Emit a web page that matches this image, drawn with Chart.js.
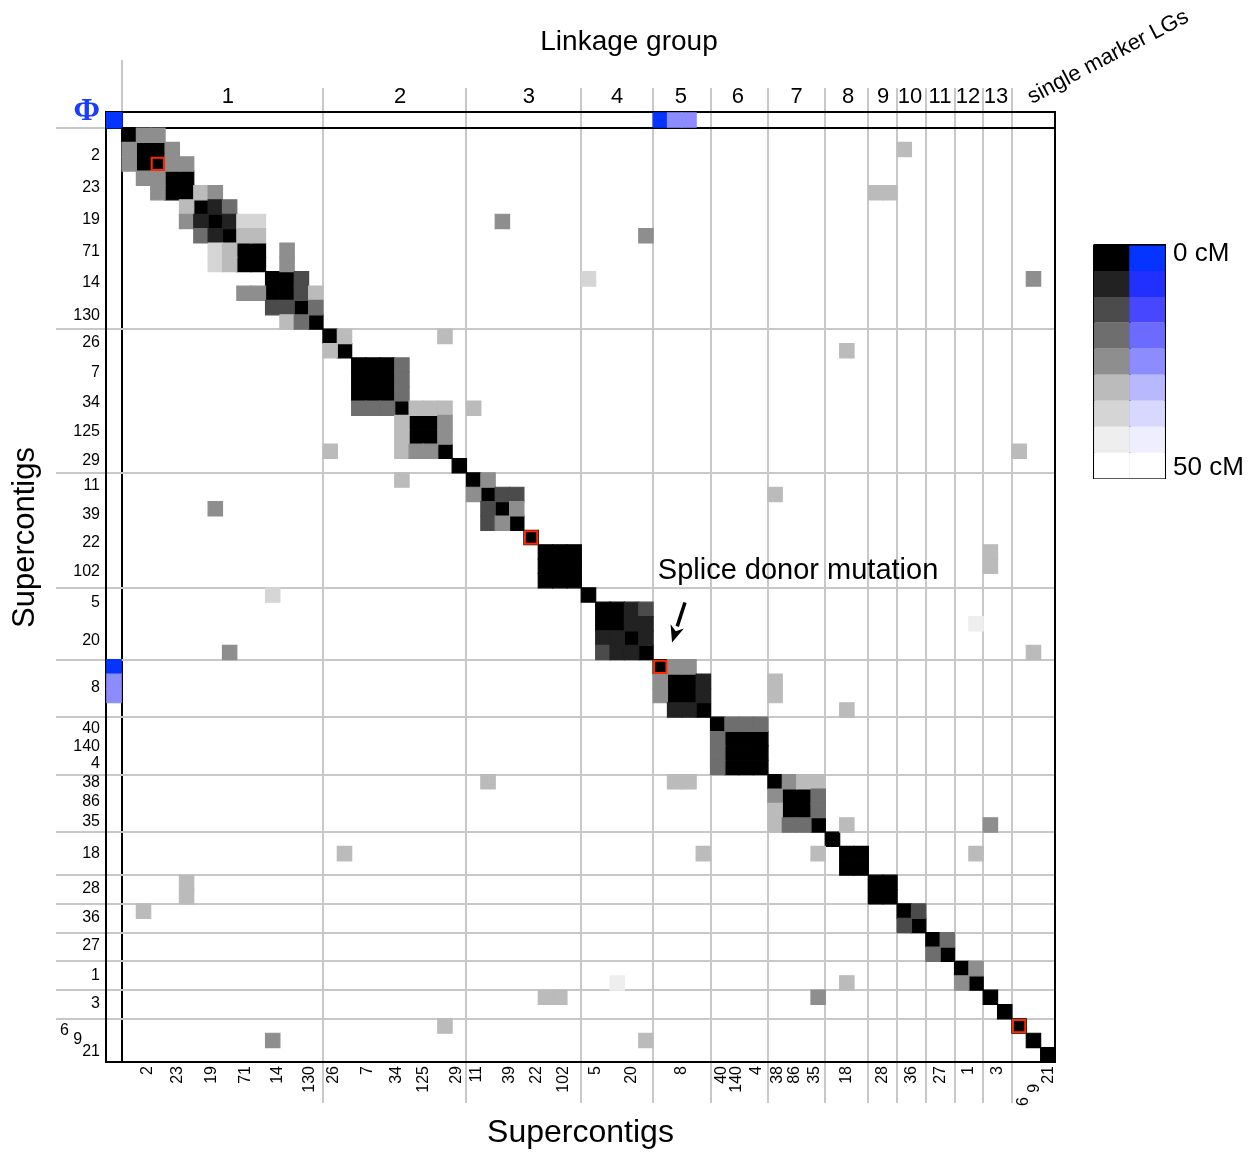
<!DOCTYPE html>
<html>
<head>
<meta charset="utf-8">
<title>Linkage group vs supercontigs</title>
<script src="https://cdn.jsdelivr.net/npm/chart.js@4.4.1/dist/chart.umd.min.js"></script>
<style>
  html, body { margin: 0; padding: 0; background: #fff; }
  #wrap { position: relative; width: 1258px; height: 1153px; }
  #matrix { position: absolute; left: 0; top: 0; }
  #scaleKey { position: absolute; left: 1085px; top: 221px; }
</style>
</head>
<body>
<div id="wrap">
  <canvas id="matrix" width="1258" height="1153"></canvas>
  <canvas id="scaleKey" width="173" height="281"></canvas>
</div>
<script>
// linkage groups, in marker index units (last group = single marker LGs)
const lgBounds = [0, 14, 24, 32, 37, 41, 45, 49, 52, 54, 56, 58, 60, 62, 65];
const lgNames = ['1', '2', '3', '4', '5', '6', '7', '8', '9', '10', '11', '12', '13'];
const lgLabelAt = [7.38, 19.37, 28.35, 34.49, 38.94, 42.9, 47.0, 50.58, 53.02, 54.9, 56.99, 58.94, 60.89];

// supercontig tick labels
const contigNames = ['2', '23', '19', '71', '14', '130', '26', '7', '34', '125', '29', '11', '39', '22', '102',
  '5', '20', '8', '40', '140', '4', '38', '86', '35', '18', '28', '36', '27', '1', '3', '6', '9', '21'];
const contigX = [1.78, 3.9, 6.27, 8.64, 10.87, 13.1, 14.77, 17.14, 19.16, 21.04, 23.34, 24.73, 27.03, 28.91, 30.79,
  33.02, 35.53, 39.01, 41.8, 42.85, 44.24, 45.7, 46.89, 48.28, 50.51, 53.0, 55.0, 57.0, 59.0, 61.0, 62.84, 63.61, 64.58];
const contigY = [1.95, 4.15, 6.37, 8.57, 10.76, 13.03, 14.91, 17.0, 19.09, 21.14, 23.16, 24.87, 26.89, 28.84, 30.84,
  33.02, 35.64, 38.91, 41.8, 43.02, 44.24, 45.56, 46.88, 48.28, 50.51, 52.94, 54.97, 56.92, 58.97, 60.92, 62.8, 63.45, 64.3];
const labelStagger = { '6': 7, '9': 4 };

// 0 cM blocks on the diagonal [first, last marker]
const blackBlocks = [[0, 0], [1, 2], [3, 4], [5, 5], [6, 6], [7, 7], [8, 9], [10, 11], [12, 12], [13, 13],
  [14, 14], [15, 15], [16, 18], [19, 19], [20, 21], [22, 22], [23, 23],
  [24, 24], [25, 25], [26, 26], [27, 27], [28, 28], [29, 31],
  [32, 32], [33, 34], [35, 35], [36, 36], [37, 37], [38, 39], [40, 40],
  [41, 41], [42, 44], [45, 45], [46, 47], [48, 48], [49, 49], [50, 51], [52, 53],
  [54, 54], [55, 55], [56, 56], [57, 57], [58, 58], [59, 59], [60, 60], [61, 61], [62, 62], [63, 63], [64, 64]];

// other marker pairs [row, col, level] (matrix is symmetric), level 0 = 0 cM ... 8 = 50 cM
const linkPairs = [
  [0, 1, 4], [0, 2, 4], [1, 3, 4], [2, 3, 4], [2, 4, 4], [4, 5, 5], [4, 6, 4], [5, 6, 1], [5, 7, 3], [6, 7, 1],
  [6, 8, 6], [6, 9, 6], [7, 8, 5], [7, 9, 5], [8, 11, 4], [9, 11, 4], [10, 12, 2], [11, 12, 2], [11, 13, 5], [12, 13, 3],
  [14, 15, 5], [14, 22, 5], [16, 19, 3], [17, 19, 3], [18, 19, 3], [19, 20, 5], [19, 21, 5], [19, 22, 5],
  [20, 22, 4], [21, 22, 4], [19, 24, 5],
  [24, 25, 4], [25, 26, 2], [25, 27, 2], [26, 27, 4],
  [33, 35, 1], [34, 35, 1], [33, 36, 2], [34, 36, 1], [35, 36, 1],
  [37, 38, 4], [37, 39, 4], [38, 40, 1], [39, 40, 1],
  [41, 42, 3], [41, 43, 3], [41, 44, 3],
  [45, 46, 4], [45, 47, 5], [45, 48, 5], [46, 48, 3], [47, 48, 3],
  [54, 55, 2], [56, 57, 3], [58, 59, 4],
  [1, 54, 5], [4, 52, 5], [4, 53, 5], [6, 26, 4], [7, 36, 4], [10, 32, 6], [10, 63, 4], [15, 50, 5],
  [22, 62, 5], [25, 45, 5], [29, 60, 5], [30, 60, 5], [34, 59, 7], [36, 63, 5], [38, 45, 5], [39, 45, 5],
  [40, 50, 5], [48, 50, 5], [48, 60, 4], [50, 59, 5]
];

// phenotype (Phi) row/column: [marker, level], -1 = Phi itself
const phiCells = [[-1, 0], [37, 0], [38, 4], [39, 4]];
// markers outlined in red
const markedCells = [2, 28, 37, 62];

const grayLevels = ['#000000', '#222222', '#4b4b4b', '#6e6e6e', '#8e8e8e', '#bbbbbb', '#d5d5d5', '#eeeeee', '#ffffff'];
const blueLevels = ['#0533ff', '#2230ff', '#4747ff', '#6b6bff', '#8c8cff', '#b8b8ff', '#d8d8ff', '#eeeeff', '#ffffff'];
const keyLabels = ['0 cM', '50 cM'];
const keyLabelAt = [0.35, 8.6];

const spliceNote = 'Splice donor mutation';
const spliceAt = [47.1, 30.8];
const arrowFrom = [39.22, 33.02];
const arrowTo = [38.32, 35.81];

const PHI = -1.115;        // phi row / column spans [PHI, 0]
const PHI_TICK = -1.1;
const N = 65;
const GRID = '#c8c8c8';
const CLEAR = 'rgba(0,0,0,0)';
const FONT = "'Liberation Sans', Arial, Helvetica, sans-serif";

Chart.defaults.font.family = FONT;
Chart.defaults.color = '#000';

// build the cells
const cellPoints = [];
function addCell(r, c, lv) { cellPoints.push({ x: c + 0.5, y: r + 0.5, v: lv }); }
blackBlocks.forEach(function(b) {
  for (let r = b[0]; r <= b[1]; r++) for (let c = b[0]; c <= b[1]; c++) addCell(r, c, 0);
});
linkPairs.forEach(function(p) { addCell(p[0], p[1], p[2]); addCell(p[1], p[0], p[2]); });

const phiPoints = [];
phiCells.forEach(function(p) {
  phiPoints.push({ x: p[0] < 0 ? PHI / 2 : p[0] + 0.5, y: PHI / 2, v: p[1] });
  if (p[0] >= 0) phiPoints.push({ x: PHI / 2, y: p[0] + 0.5, v: p[1] });
});

const innerBounds = lgBounds.slice(1, -1);
const isBound = v => innerBounds.indexOf(v) >= 0;
const pad = (n) => n + '\u00a0'.repeat(labelStagger[n] || 0);

const bottomText = new Map(contigNames.map((n, i) => [contigX[i], pad(n)]));
const leftText = new Map(contigNames.map((n, i) => [contigY[i], pad(n)]));
leftText.set(PHI_TICK, '\u03a6');
const topText = new Map(lgNames.map((n, i) => [lgLabelAt[i], n]));

const asTicks = arr => arr.slice().sort((a, b) => a - b).map(v => ({ value: v }));

function cellSide(chart) {
  const s = chart.scales.x;
  return Math.abs(s.getPixelForValue(1) - s.getPixelForValue(0));
}
function phiSide(chart) {
  const s = chart.scales.x;
  return Math.abs(s.getPixelForValue(0) - s.getPixelForValue(PHI));
}

// free text: side title, mutation note, arrow, single marker LGs
const notes = {
  id: 'notes',
  afterDraw(chart) {
    const ctx = chart.ctx, x = chart.scales.x, y = chart.scales.y;
    ctx.save();
    ctx.fillStyle = '#000';
    ctx.strokeStyle = '#000';
    ctx.textAlign = 'center';
    ctx.textBaseline = 'middle';

    ctx.font = '29px ' + FONT;
    ctx.fillText(spliceNote, x.getPixelForValue(spliceAt[0]), y.getPixelForValue(spliceAt[1]));

    const tx = x.getPixelForValue(arrowFrom[0]), ty = y.getPixelForValue(arrowFrom[1]);
    const hx = x.getPixelForValue(arrowTo[0]), hy = y.getPixelForValue(arrowTo[1]);
    const a = Math.atan2(hy - ty, hx - tx);
    const bx = hx - 17 * Math.cos(a), by = hy - 17 * Math.sin(a);
    ctx.lineWidth = 3.5;
    ctx.beginPath(); ctx.moveTo(tx, ty); ctx.lineTo(bx, by); ctx.stroke();
    ctx.beginPath();
    ctx.moveTo(hx, hy);
    ctx.lineTo(bx + 7 * Math.sin(a), by - 7 * Math.cos(a));
    ctx.lineTo(hx - 12 * Math.cos(a), hy - 12 * Math.sin(a));
    ctx.lineTo(bx - 7 * Math.sin(a), by + 7 * Math.cos(a));
    ctx.closePath(); ctx.fill();

    ctx.save();
    ctx.translate(x.getPixelForValue(-6.76), y.getPixelForValue(28.5));
    ctx.rotate(-Math.PI / 2);
    ctx.font = '31px ' + FONT;
    ctx.fillText('Supercontigs', 0, 0);
    ctx.restore();

    ctx.save();
    ctx.translate(x.getPixelForValue(68.7), y.getPixelForValue(-4.94));
    ctx.rotate(-27.7 * Math.PI / 180);
    ctx.font = '22px ' + FONT;
    ctx.fillText('single marker LGs', 0, 0);
    ctx.restore();

    ctx.restore();
  }
};

new Chart(document.getElementById('matrix'), {
  type: 'scatter',
  data: {
    datasets: [
      {
        label: 'marked',
        data: markedCells.map(i => ({ x: i + 0.5, y: i + 0.5 })),
        pointStyle: 'rect',
        pointRadius: c => (cellSide(c.chart) - 2) / Math.SQRT2,
        pointBackgroundColor: CLEAR,
        pointBorderColor: '#ff2a00',
        pointBorderWidth: 2,
        order: 0
      },
      {
        label: 'linkage',
        data: cellPoints,
        pointStyle: 'rect',
        pointRadius: c => cellSide(c.chart) / Math.SQRT2,
        pointBackgroundColor: c => c.raw ? grayLevels[c.raw.v] : '#000',
        pointBorderColor: c => c.raw ? grayLevels[c.raw.v] : '#000',
        pointBorderWidth: 1.2,
        order: 2
      },
      {
        label: 'phi',
        data: phiPoints,
        pointStyle: 'rect',
        pointRadius: c => (c.raw && c.raw.x < 0 && c.raw.y < 0 ? phiSide(c.chart) : cellSide(c.chart)) / Math.SQRT2,
        pointBackgroundColor: c => c.raw ? blueLevels[c.raw.v] : '#00f',
        pointBorderColor: c => c.raw ? blueLevels[c.raw.v] : '#00f',
        pointBorderWidth: 1.2,
        order: 2
      }
    ]
  },
  options: {
    responsive: false,
    animation: false,
    devicePixelRatio: 1,
    events: [],
    layout: { padding: 0 },
    plugins: {
      legend: { display: false },
      tooltip: { enabled: false },
      title: {
        display: true,
        text: 'Linkage group',
        color: '#000',
        font: { size: 28, weight: 'normal' },
        padding: { top: 25, bottom: 0 }
      }
    },
    scales: {
      x: {
        type: 'linear', position: 'bottom', min: PHI, max: N, z: 1,
        afterBuildTicks: s => { s.ticks = asTicks([0].concat(innerBounds, contigX)); },
        afterFit: s => { s.height = 91; },
        ticks: {
          autoSkip: false, minRotation: 90, maxRotation: 90, padding: -37,
          font: { size: 16 }, color: '#000',
          callback: v => bottomText.get(v) || ''
        },
        grid: {
          lineWidth: 2, tickLength: 41,
          color: c => !c.tick ? GRID : (c.tick.value === 0 ? '#000' : (isBound(c.tick.value) ? GRID : CLEAR)),
          tickColor: c => c.tick && isBound(c.tick.value) ? GRID : CLEAR
        },
        border: { display: true, color: '#000', width: 2 },
        title: { display: true, text: 'Supercontigs', color: '#000', font: { size: 32 }, padding: { top: 0, bottom: 1 } }
      },
      y: {
        type: 'linear', position: 'left', reverse: true, min: PHI, max: N, z: 1,
        afterBuildTicks: s => { s.ticks = asTicks([PHI_TICK, 0].concat(innerBounds, contigY)); },
        afterFit: s => { s.width = 106; },
        ticks: {
          autoSkip: false, padding: -44,
          font: c => c.tick && c.tick.value === PHI_TICK
            ? { family: "'Liberation Serif', 'DejaVu Serif', serif", size: 32, weight: 'bold' }
            : { size: 16 },
          color: c => c.tick && c.tick.value === PHI_TICK ? '#1a3cff' : '#000',
          callback: v => leftText.get(v) || ''
        },
        grid: {
          lineWidth: 2, tickLength: 50,
          color: c => !c.tick ? GRID : (c.tick.value === 0 ? '#000' : (isBound(c.tick.value) ? GRID : CLEAR)),
          tickColor: c => c.tick && (c.tick.value === 0 || isBound(c.tick.value)) ? GRID : CLEAR
        },
        border: { display: true, color: '#000', width: 2 }
      },
      lg: {
        type: 'linear', position: 'top', min: PHI, max: N, z: 1, weight: 0,
        afterBuildTicks: s => { s.ticks = asTicks([0].concat(innerBounds, lgLabelAt)); },
        afterFit: s => { s.height = 24; },
        ticks: {
          autoSkip: false, maxRotation: 0, minRotation: 0, padding: -22.2,
          font: { size: 22 }, color: '#000',
          callback: v => topText.get(v) || ''
        },
        grid: {
          drawOnChartArea: false, lineWidth: 2, tickLength: 24,
          color: GRID,
          tickColor: c => c.tick && (c.tick.value === 0 || isBound(c.tick.value)) ? GRID : CLEAR
        },
        border: { display: true, color: '#000', width: 2 }
      },
      reach: {
        type: 'linear', position: 'top', min: PHI, max: N, z: 1, weight: 1,
        afterBuildTicks: s => { s.ticks = [{ value: 0 }]; },
        afterFit: s => { s.height = 29.4; },
        ticks: { display: false },
        grid: { drawOnChartArea: false, lineWidth: 2, tickLength: 28, color: GRID, tickColor: GRID },
        border: { display: false }
      },
      edge: {
        type: 'linear', position: 'right', reverse: true, min: PHI, max: N, z: 1,
        afterFit: s => { s.width = 203; },
        ticks: { display: false },
        grid: { display: false },
        border: { display: true, color: '#000', width: 2 }
      }
    }
  },
  plugins: [notes]
});

// colour key
const keyText = new Map(keyLabels.map((t, i) => [keyLabelAt[i], t]));
new Chart(document.getElementById('scaleKey'), {
  type: 'bar',
  data: {
    labels: ['markers', 'phenotype'],
    datasets: grayLevels.map((g, i) => ({
      label: 'level ' + i,
      data: [1, 1],
      backgroundColor: [g, blueLevels[i]],
      borderColor: [g, blueLevels[i]],
      borderWidth: 0.5,
      barPercentage: 1,
      categoryPercentage: 1
    }))
  },
  options: {
    responsive: false,
    animation: false,
    devicePixelRatio: 1,
    events: [],
    layout: { padding: { left: 9, top: 0, bottom: 0, right: 0 } },
    plugins: { legend: { display: false }, tooltip: { enabled: false } },
    scales: {
      x: {
        stacked: true, z: 1,
        afterFit: s => { s.height = 0; },
        ticks: { display: false },
        grid: { color: '#000', lineWidth: 2, drawTicks: false },
        border: { display: true, color: '#000', width: 2 }
      },
      y: {
        stacked: true, position: 'right', reverse: true, min: 0, max: 9, z: 1,
        afterBuildTicks: s => { s.ticks = asTicks([0, 9].concat(keyLabelAt)); },
        afterFit: s => { s.width = 93; },
        ticks: { autoSkip: false, padding: 8, font: { size: 26 }, color: '#000', callback: v => keyText.get(v) || '' },
        grid: {
          drawTicks: false, lineWidth: 2,
          color: c => c.tick && (c.tick.value === 0 || c.tick.value === 9) ? '#000' : CLEAR
        },
        border: { display: true, color: '#000', width: 2 }
      }
    }
  }
});
</script>
</body>
</html>
